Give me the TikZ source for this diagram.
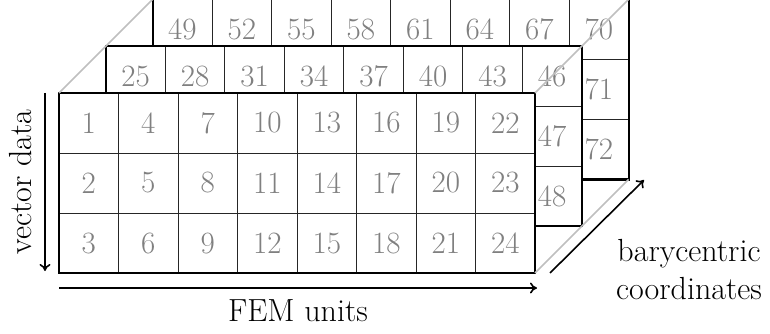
\documentclass[tikz,border=0pt]{standalone}
\usetikzlibrary{arrows.meta}
\definecolor{numgray}{gray}{0.5}
\definecolor{diaggray}{gray}{0.75}
\begin{document}
\begin{tikzpicture}[x=1pt,y=-1pt,
  cellline/.style={line width=1pt, draw=black!85},
  layerborder/.style={line width=2.2pt, draw=black},
  num/.style={text=numgray, font=\fontsize{31}{37}\selectfont, inner sep=0pt},
  lbl/.style={font=\fontsize{32}{38}\selectfont, align=center, inner sep=0pt},
  axis/.style={line width=1.6pt, -{To[length=7pt,width=11pt]}},
  diag/.style={draw=diaggray, line width=1.5pt}]
\useasboundingbox (0,0) rectangle (770,334);
\foreach \L in {2,1,0} {
  \pgfmathsetmacro\ox{59+46.8*\L}
  \pgfmathsetmacro\oy{93-46.8*\L}
  \coordinate (TL\L) at (\ox,\oy);
  \coordinate (TR\L) at (\ox+476,\oy);
  \coordinate (BR\L) at (\ox+476,\oy+180);
  \fill[white] (TL\L) rectangle (BR\L);
  \foreach \j in {1,...,7} {
    \draw[cellline] (\ox+59.5*\j,\oy) -- (\ox+59.5*\j,\oy+180);
  }
  \foreach \i in {1,2} {
    \draw[cellline] (\ox,\oy+60*\i) -- (\ox+476,\oy+60*\i);
  }
  \foreach \j in {0,...,7} {
    \foreach \i in {0,1,2} {
      \pgfmathtruncatemacro\n{24*\L+3*\j+\i+1}
      \pgfmathtruncatemacro\show{(\L==0) || (\i==0) || (\j==7)}
      \ifnum\show=1
        \node[num] (c\L-\j-\i) at (\ox+59.5*\j+29.75,\oy+60*\i+30) {\n};
      \fi
    }
  }
  \draw[layerborder] (TL\L) rectangle (BR\L);
}
\draw[diag] (TL0) -- (TL2);
\draw[diag] (TR0) -- (TR2);
\draw[diag] (BR0) -- (BR2);
\coordinate (vtop) at (45,93);
\coordinate (vbot) at (45,271);
\coordinate (hl) at (59,288);
\coordinate (hr) at (537,288);
\coordinate (ds) at (550,273);
\coordinate (de) at (644,180);
\draw[axis] (vtop) -- (vbot);
\draw[axis] (hl) -- (hr);
\draw[axis] (ds) -- (de);
\node[lbl, rotate=90] (vd) at (21,182) {vector data};
\node[lbl] (fem) at (298,311) {FEM units};
\node[lbl] (bc) at (689,270) {barycentric\\coordinates};
\end{tikzpicture}
\end{document}
